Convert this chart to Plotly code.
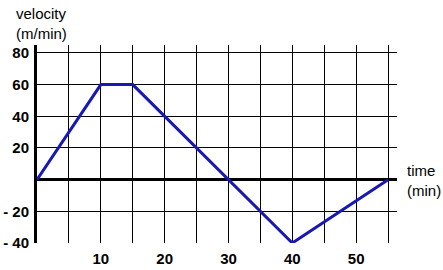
import plotly.graph_objects as go

time_min = [0, 10, 15, 40, 55]
velocity = [0, 60, 60, -40, 0]
x_tick_vals = [10, 20, 30, 40, 50]
x_tick_text = ["10", "20", "30", "40", "50"]
y_tick_vals = [-40, -20, 20, 40, 60, 80]
y_tick_text = ["- 40", "- 20", "20", "40", "60", "80"]

font_bold = dict(family="Liberation Sans, Arial, sans-serif", size=15, color="black", weight="bold")
font_reg = dict(family="Liberation Sans, Arial, sans-serif", size=15, color="black")

fig = go.Figure()
fig.add_trace(go.Scatter(x=time_min, y=velocity, mode="lines",
                         line=dict(color="rgb(24,24,180)", width=3), hoverinfo="skip"))

fig.update_layout(
    width=443, height=270,
    margin=dict(l=37, r=46, t=45, b=27),
    paper_bgcolor="white", plot_bgcolor="white",
    showlegend=False,
    xaxis=dict(range=[0, 56.4], tickvals=x_tick_vals, ticktext=x_tick_text,
               showgrid=True, gridcolor="black", gridwidth=1,
               minor=dict(dtick=5, tick0=0, showgrid=True, gridcolor="black", gridwidth=1),
               zeroline=False, showline=False, ticks="outside", ticklen=2,
               tickcolor="rgba(0,0,0,0)", tickfont=font_bold, fixedrange=True,
               automargin=False),
    yaxis=dict(range=[-40, 85], tickvals=y_tick_vals, ticktext=y_tick_text,
               showgrid=True, gridcolor="black", gridwidth=1,
               zeroline=True, zerolinecolor="black", zerolinewidth=3,
               showline=True, linecolor="black", linewidth=3,
               ticks="outside", ticklen=2, tickcolor="rgba(0,0,0,0)",
               tickfont=font_bold, fixedrange=True, automargin=False),
    annotations=[
        dict(text="velocity<br>(m/min)", xref="paper", yref="paper", x=-23/360, y=1 + 42/198,
             xanchor="left", yanchor="top", showarrow=False, align="left", font=font_reg),
        dict(text="time<br>(min)", xref="paper", yref="y", x=1 + 8/360, y=0,
             xanchor="left", yanchor="middle", yshift=-1, showarrow=False, align="left", font=font_reg),
    ],
)

fig.write_html("out.html")
